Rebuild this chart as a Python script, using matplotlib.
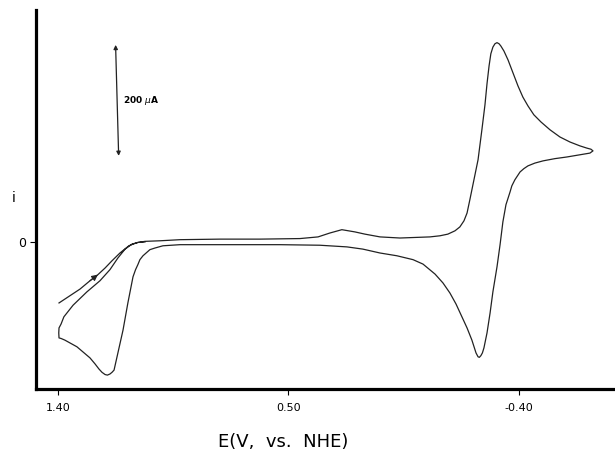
import numpy as np
import matplotlib
matplotlib.use('Agg')
import matplotlib.pyplot as plt

# potential (V vs NHE) and current (uA), in scan order
# forward sweep: 1.40 V -> -0.69 V
E_fwd = [1.396, 1.353, 1.314, 1.275, 1.244, 1.216, 1.189, 1.158, 1.134, 1.123,
         1.107, 1.088, 1.060, 1.002, 0.923, 0.767, 0.611, 0.455, 0.384, 0.338,
         0.291, 0.240, 0.201, 0.142, 0.064, -0.053, -0.092, -0.123, -0.151,
         -0.170, -0.186, -0.198, -0.209, -0.225, -0.241, -0.256, -0.268, -0.276,
         -0.284, -0.291, -0.299, -0.307, -0.315, -0.323, -0.330, -0.342, -0.358,
         -0.377, -0.397, -0.416, -0.436, -0.459, -0.487, -0.522, -0.561, -0.600,
         -0.639, -0.666, -0.682, -0.690]
i_fwd = [-110, -97, -85, -70, -59, -47, -34, -20, -11, -7,
         -4, -1, 1, 2, 4, 5, 5, 6, 9, 16,
         22, 18, 14, 9, 7, 9, 11, 14, 20,
         27, 38, 52, 76, 112, 148, 202, 247, 285,
         317, 339, 351, 357, 359, 357, 353, 344, 328,
         305, 281, 261, 245, 229, 216, 202, 189, 180,
         173, 169, 167, 164]

# reverse sweep: -0.69 V -> 1.40 V
E_rev = [-0.678, -0.639, -0.588, -0.541, -0.495, -0.463, -0.436, -0.420, -0.405,
         -0.385, -0.373, -0.366, -0.350, -0.338, -0.327, -0.315, -0.299, -0.288,
         -0.276, -0.264, -0.258, -0.252, -0.246, -0.241, -0.233, -0.217, -0.198,
         -0.178, -0.155, -0.131, -0.104, -0.073, -0.026, 0.013, 0.076, 0.142,
         0.209, 0.271, 0.377, 0.533, 0.689, 0.845, 0.923, 0.990, 1.021, 1.041,
         1.056, 1.068, 1.080, 1.088, 1.097, 1.107, 1.127, 1.146, 1.166, 1.181,
         1.189, 1.197, 1.207, 1.216, 1.228, 1.240, 1.255, 1.275, 1.298, 1.326,
         1.353, 1.373, 1.388, 1.396]
i_rev = [160, 157, 153, 150, 146, 142, 137, 132, 126,
         112, 101, 90, 67, 36, -5, -45, -90, -128,
         -164, -191, -200, -205, -208, -207, -200, -177, -155,
         -135, -112, -92, -74, -58, -40, -32, -25, -20,
         -13, -9, -6, -5, -5, -5, -5, -7, -11, -14,
         -20, -25, -32, -41, -50, -63, -110, -159, -200, -231,
         -235, -238, -240, -239, -235, -229, -220, -209, -200, -189,
         -182, -177, -174, -173]

# start of the second cycle, rejoining the baseline
E_back = [1.397, 1.396, 1.388, 1.377, 1.341, 1.287, 1.236, 1.197, 1.166, 1.138,
          1.111, 1.088, 1.060]
i_back = [-164, -155, -148, -135, -114, -90, -70, -50, -29, -13,
          -4, -1, 0]

scale_E = 1.175
scale_top, scale_bot = 355, 155
xtick_vals = [1.40, 0.50, -0.40]
xtick_labels = ['1.40', '0.50', '-0.40']

fig = plt.figure(figsize=(6.15, 4.5), dpi=100)
ax = fig.add_axes([0.0585, 0.1356, 0.9415, 0.8424])

E_all = E_fwd + E_rev + E_back
i_all = i_fwd + i_rev + i_back
ax.plot(E_all, i_all, color='#222222', lw=0.9, solid_joinstyle='round')

# start-of-scan arrow
ax.annotate('', xy=(E_fwd[4], i_fwd[4]), xytext=(E_fwd[3], i_fwd[3]),
            arrowprops=dict(arrowstyle='-|>', color='#222222', lw=0.8,
                            mutation_scale=9, shrinkA=0, shrinkB=0))

# 200 uA scale bar
ax.annotate('', xy=(scale_E, scale_top), xytext=(scale_E - 0.012, scale_bot),
            arrowprops=dict(arrowstyle='<|-|>', color='#222222', lw=0.9,
                            mutation_scale=6, shrinkA=0, shrinkB=0))
ax.text(scale_E - 0.03, (scale_top + scale_bot) / 2, '200 $\\mu$A',
        fontsize=6.5, fontweight='bold', ha='left', va='center')

ax.set_xlim(1.486, -0.776)
ax.set_ylim(-265, 418)

ax.spines['top'].set_visible(False)
ax.spines['right'].set_visible(False)
ax.spines['left'].set_linewidth(2.3)
ax.spines['bottom'].set_linewidth(2.3)

ax.set_xticks(xtick_vals)
ax.set_xticklabels(xtick_labels, fontsize=8)
ax.set_yticks([0])
ax.set_yticklabels(['0'], fontsize=9)
ax.tick_params(axis='x', direction='out', length=4, width=0.8, pad=6)
ax.tick_params(axis='y', direction='out', length=4, width=0.8, pad=3)

ax.set_xlabel('E(V,  vs.  NHE)', fontsize=13)
ax.xaxis.set_label_coords(0.427, -0.116)
ax.set_ylabel('i', rotation=0, fontsize=10)
ax.yaxis.set_label_coords(-0.038, 0.485)

fig.savefig('out.png', dpi=100)
